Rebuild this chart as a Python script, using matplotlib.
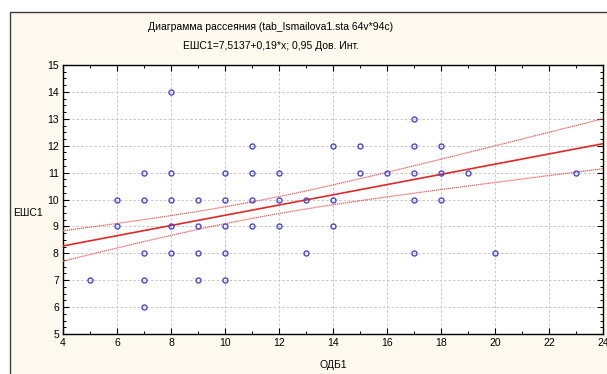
import matplotlib.pyplot as plt
import numpy as np
from matplotlib.patches import Rectangle
from matplotlib.ticker import MultipleLocator

plt.rcParams["font.family"] = ["Liberation Sans", "DejaVu Sans"]

# scatter points (ОДБ1, ЕШС1)
odb1 = [5, 6, 6, 7, 7, 7, 7, 7, 8, 8, 8, 8, 8, 9, 9, 9, 9,
        10, 10, 10, 10, 10, 11, 11, 11, 11, 12, 12, 12, 13, 13,
        14, 14, 14, 15, 15, 16, 17, 17, 17, 17, 17, 18, 18, 18, 19, 20, 23]
esh1 = [7, 10, 9, 11, 10, 8, 7, 6, 14, 11, 10, 9, 8, 10, 9, 8, 7,
        11, 10, 9, 8, 7, 12, 11, 10, 9, 11, 10, 9, 10, 8,
        12, 10, 9, 12, 11, 11, 13, 12, 11, 10, 8, 12, 11, 10, 11, 8, 11]

# regression from the title, confidence band parameters
intercept = 7.5137
slope = 0.19
t_s = 2.98
n_cases = 94
x_mean = 11.0
sxx = 1950.0

bg = "#fdf9ee"
fig = plt.figure(figsize=(6.07, 3.74), dpi=100)
fig.patch.set_facecolor("white")
fig.patches.append(Rectangle((9.5 / 607, -0.1), 1.2, (374 - 12.5) / 374 + 0.1,
                             transform=fig.transFigure, facecolor=bg,
                             edgecolor="#404040", linewidth=1.0, zorder=-5))

ax = fig.add_axes([63 / 607, 40 / 374, 540 / 607, 269 / 374])
ax.set_zorder(2)
ax.set_facecolor("white")

xs = np.linspace(4, 24, 200)
fit = intercept + slope * xs
half = t_s * np.sqrt(1.0 / n_cases + (xs - x_mean) ** 2 / sxx)
ax.plot(xs, fit, color="#e02828", lw=1.2, zorder=3)
ax.plot(xs, fit + half, color="#ea6060", lw=0.9, ls=(0, (1, 0.6)), zorder=3)
ax.plot(xs, fit - half, color="#ea6060", lw=0.9, ls=(0, (1, 0.6)), zorder=3)

ax.plot(odb1, esh1, "o", ms=3.6, mfc="none", mec="#4848d8", mew=1.0, zorder=4)

ax.set_xlim(4, 24)
ax.set_ylim(5, 15)
ax.xaxis.set_major_locator(MultipleLocator(2))
ax.xaxis.set_minor_locator(MultipleLocator(1))
ax.yaxis.set_major_locator(MultipleLocator(1))
ax.yaxis.set_minor_locator(MultipleLocator(0.25))
ax.grid(True, which="major", color="#c8c8c8", ls=(0, (2.5, 2)), lw=0.7)
ax.tick_params(which="both", direction="in", top=True, right=True,
               labelsize=7.5, colors="black", pad=3)
ax.tick_params(which="major", length=4, width=0.8)
ax.tick_params(which="minor", length=2.5, width=0.7)
for s in ax.spines.values():
    s.set_linewidth(1.0)

fig.text(271 / 607, 1 - 27 / 374, "Диаграмма рассеяния (tab_Ismailova1.sta 64v*94c)",
         ha="center", va="center", fontsize=7.5)
fig.text(271 / 607, 1 - 46 / 374, "ЕШС1=7,5137+0,19*x; 0,95 Дов. Инт.",
         ha="center", va="center", fontsize=7.5)
fig.text(28 / 607, 1 - 213 / 374, "ЕШС1", ha="center", va="center", fontsize=7.5)
fig.text(333 / 607, 1 - 365 / 374, "ОДБ1", ha="center", va="center", fontsize=7.5)

fig.savefig("out.png", dpi=100, facecolor=fig.get_facecolor())
